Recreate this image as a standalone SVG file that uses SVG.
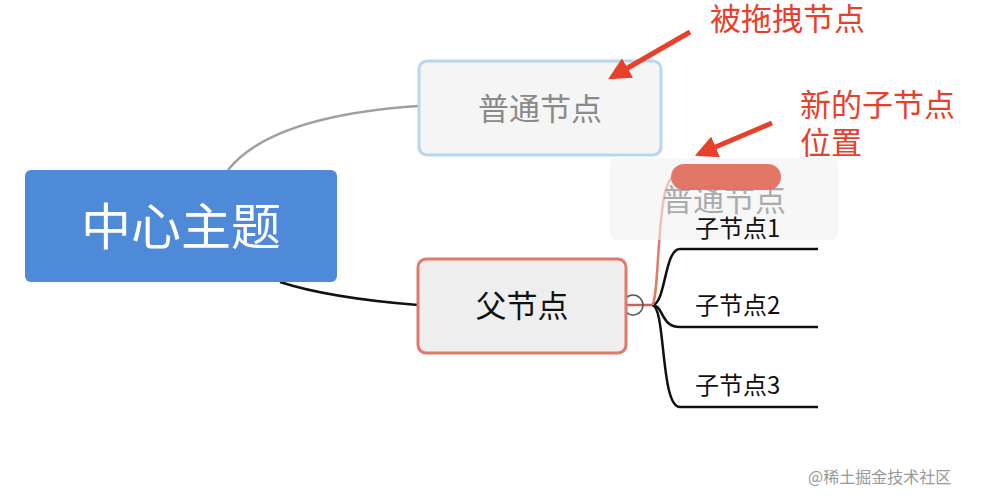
<svg xmlns="http://www.w3.org/2000/svg" width="984" height="504" viewBox="0 0 984 504">
<style>
text{font-family:"Noto Sans CJK SC","Liberation Sans",sans-serif}
.ann{fill:#e8402a;font-size:31px}
.child{font-size:24px;fill:#111}
.ln{fill:none;stroke-width:2.5}
</style>
<defs>
<marker id="ah" viewBox="0 0 10 10" refX="8" refY="5" markerWidth="4.5" markerHeight="4.5" orient="auto"><path d="M0,0L10,5L0,10z" fill="#e8402a"/></marker>
</defs>
<rect width="984" height="504" fill="#fff"/>
<g id="connectors">
<path class="ln" d="M228,170 C260,130 330,112 418,106" stroke="#a0a0a0"/>
<path class="ln" d="M280,282 C320,295 380,302 418,305" stroke="#111"/>
<path class="ln" d="M652,305 C666,305 664,249 680,249 L818,249" stroke="#111"/>
<path class="ln" d="M652,305 C664,305 660,327 680,327 L818,327" stroke="#111"/>
<path class="ln" d="M652,305 C666,305 660,407 680,407 L818,407" stroke="#111"/>
<path class="ln" d="M652,305 C660,300 656,180 674,177" stroke="#e07a6a"/>
<line x1="620" y1="305" x2="652" y2="305" stroke="#c0675a" stroke-width="2.5"/>
<circle cx="633" cy="305" r="10" fill="none" stroke="#555" stroke-width="1.5"/>
</g>
<g id="center">
<rect x="25" y="170" width="312" height="112" rx="6" fill="#4f8ad9"/>
<text x="181" y="245" font-size="50" fill="#fff" text-anchor="middle">中心主题</text>
</g>
<g id="normal">
<rect x="419" y="61" width="242" height="94" rx="8" fill="#f5f5f5" stroke="#b9d5f0" stroke-width="3"/>
<text x="540" y="120" font-size="31" fill="#8a8a8a" text-anchor="middle">普通节点</text>
</g>
<g id="parent">
<rect x="418" y="259" width="208" height="94" rx="8" fill="#eeeeee" stroke="#e07a6a" stroke-width="3"/>
<text x="522" y="317" font-size="31" fill="#111" text-anchor="middle">父节点</text>
</g>
<g id="ghost">
<rect x="610" y="158" width="228" height="82" rx="6" fill="#f2f2f2" opacity="0.6"/>
<text x="724" y="211" font-size="31" fill="#999" text-anchor="middle" opacity="0.8">普通节点</text>
</g>
<g id="drop">
<rect x="671" y="164" width="110" height="26" rx="13" fill="#e0705f" opacity="0.95"/>
</g>
<g id="c1"><text class="child" x="695" y="237">子节点1</text></g>
<g id="c2"><text class="child" x="695" y="314">子节点2</text></g>
<g id="c3"><text class="child" x="695" y="394">子节点3</text></g>
<g id="arrows">
<line x1="690" y1="32" x2="612" y2="77" stroke="#e8402a" stroke-width="5" marker-end="url(#ah)"/>
<line x1="772" y1="123" x2="699" y2="154" stroke="#e8402a" stroke-width="5" marker-end="url(#ah)"/>
</g>
<g id="labels">
<text class="ann" x="710" y="30">被拖拽节点</text>
<text class="ann" x="800" y="116">新的子节点</text>
<text class="ann" x="800" y="154">位置</text>
<text x="808" y="483" font-size="16" fill="#999">@稀土掘金技术社区</text>
</g>
</svg>
